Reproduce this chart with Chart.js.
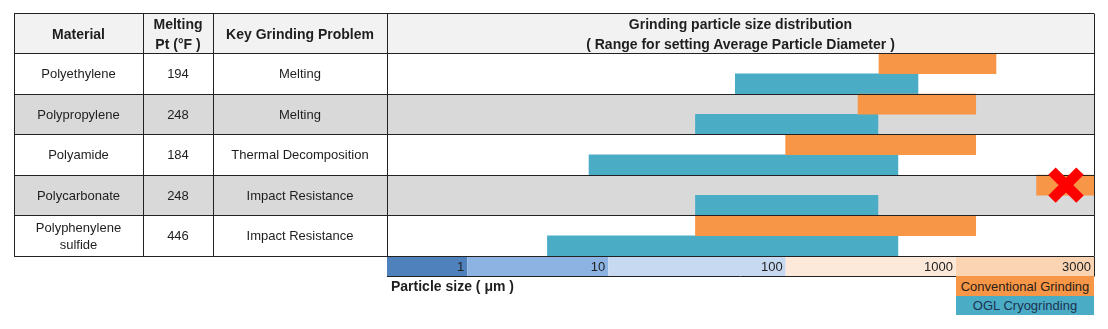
<!DOCTYPE html>
<html>
<head>
<meta charset="utf-8">
<title>Grinding particle size distribution</title>
<script src="https://cdn.jsdelivr.net/npm/chart.js@4.4.1/dist/chart.umd.min.js"></script>
<style>
html, body { margin: 0; padding: 0; background: #fff; }
body { position: relative; width: 1108px; height: 329px; overflow: hidden;
	font-family: "Liberation Sans", Arial, sans-serif; color: #1e1e1e; }
#chart { position: absolute; left: 0; top: 0; }
.cell { position: absolute; display: flex; align-items: center; justify-content: center;
	text-align: center; font-size: 13px; line-height: 17px; }
.head { font-weight: bold; font-size: 14px; line-height: 20px; }
.legend { position: absolute; left: 956px; width: 138px; font-size: 13px;
	display: flex; align-items: center; justify-content: center; }
#axis_title { position: absolute; left: 391px; top: 277px; font-size: 14px; font-weight: bold; line-height: 18px; }
</style>
</head>
<body>
<canvas id="chart" width="1108" height="329"></canvas>
<div id="cells"></div>
<div id="axis_title">Particle size ( μm )</div>
<div class="legend" style="top:276px; height:20px; background:#f79646; color:#2a2018;">Conventional Grinding</div>
<div class="legend" style="top:296px; height:19px; background:#4bacc6; color:#1c3350;">OGL Cryogrinding</div>
<script>
//======================================================================================================
// Data
//======================================================================================================
var materials    = ["Polyethylene", "Polypropylene", "Polyamide", "Polycarbonate", "Polyphenylene<br>sulfide"];
var meltingPts   = [194, 248, 184, 248, 446];
var problems     = ["Melting", "Melting", "Thermal Decomposition", "Impact Resistance", "Impact Resistance"];

// Range for setting average particle diameter, [from, to] in µm
var conventional = [[353, 1375], [266, 1170], [100, 1170], [1900, 3000], [31, 1170]];
var cryo         = [[52, 598], [31, 348], [7.3, 456], [31, 348], [3.7, 456]];

// Conventional grinding crossed out (µm where the cross sits), null = none
var crossedOut   = [null, null, null, 2400, null];

// Particle size axis
var axisMin      = 0.3;
var tickValues   = [1, 10, 100, 1000, 3000];
var tickLabels   = ["1", "10", "100", "1000", "3000"];

//======================================================================================================
// Layout / styles
//======================================================================================================
var colEdges   = [14, 143, 213, 387, 1094];
var headerTop  = 13.5;
var bandEdges  = [0, 0.1136, 0.3130, 0.5639, 0.8048, 1];	// where each tick sits along the axis (0..1)
var bandFills  = ["#4f81bd", "#8db3e2", "#c6d9f1", "#fde9d9", "#fbd4b4"];
var rowFills   = ["#ffffff", "#d9d9d9"];
var lineColor  = "#222222";
var FONT       = "'Liberation Sans', Arial, sans-serif";

//======================================================================================================
// Piecewise logarithmic scale (the decades are not equally wide in the original)
//======================================================================================================
function bandDecimal(v)
{
	var stops = [axisMin].concat(tickValues);
	if (v <= stops[0])
		return bandEdges[0];
	for (var i = 1; i < stops.length; i++)
	{
		if (v <= stops[i])
			return bandEdges[i-1] + (bandEdges[i] - bandEdges[i-1]) * Math.log(v / stops[i-1]) / Math.log(stops[i] / stops[i-1]);
	}
	return bandEdges[bandEdges.length - 1];
}

class BandScale extends Chart.LinearScale
{
	getPixelForValue(value)
	{
		return this.getPixelForDecimal(bandDecimal(value));
	}
	getValueForPixel(pixel)
	{
		var d = this.getDecimalForPixel(pixel);
		var stops = [axisMin].concat(tickValues);
		for (var i = 1; i < stops.length; i++)
		{
			if (d <= bandEdges[i])
				return stops[i-1] * Math.pow(stops[i] / stops[i-1], (d - bandEdges[i-1]) / (bandEdges[i] - bandEdges[i-1]));
		}
		return stops[stops.length - 1];
	}
}
BandScale.id = "band";
BandScale.defaults = Chart.LinearScale.defaults;
Chart.register(BandScale);

function crisp(v)
{
	return Math.round(v - 0.5) + 0.5;
}

//======================================================================================================
// Table background, grid lines, axis bands and the red cross
//======================================================================================================
var tablePlugin = {
	id: "tableGrid",
	beforeDraw: function(chart) {
		var ctx = chart.ctx, area = chart.chartArea, y = chart.scales.y, x = chart.scales.x;
		var rowH = (area.bottom - area.top) / materials.length;
		var left = colEdges[0], right = colEdges[colEdges.length - 1];
		ctx.save();
		ctx.fillStyle = "#f2f2f2";
		ctx.fillRect(left, headerTop, right - left, area.top - headerTop);
		for (var i = 0; i < materials.length; i++)
		{
			ctx.fillStyle = rowFills[i % 2];
			ctx.fillRect(left, y.getPixelForValue(i) - rowH / 2, right - left, rowH);
		}
		var edges = [x.left].concat(tickValues.map(function(v) { return x.getPixelForValue(v); }));
		for (var j = 0; j < tickValues.length; j++)
		{
			ctx.fillStyle = bandFills[j];
			ctx.fillRect(edges[j], x.top, edges[j+1] - edges[j], x.bottom - x.top);
		}
		ctx.restore();
	},
	afterDatasetsDraw: function(chart) {
		var ctx = chart.ctx, area = chart.chartArea, y = chart.scales.y, x = chart.scales.x;
		var rowH = (area.bottom - area.top) / materials.length;
		var left = colEdges[0], right = colEdges[colEdges.length - 1];
		ctx.save();
		ctx.strokeStyle = lineColor;
		ctx.lineWidth = 1;
		ctx.beginPath();
		var rows = [headerTop, area.top];
		for (var i = 0; i < materials.length; i++)
			rows.push(y.getPixelForValue(i) + rowH / 2);
		rows.forEach(function(r) {
			ctx.moveTo(left, crisp(r));
			ctx.lineTo(right, crisp(r));
		});
		colEdges.forEach(function(c) {
			ctx.moveTo(crisp(c), crisp(headerTop));
			ctx.lineTo(crisp(c), crisp(area.bottom));
		});
		// frame below the particle size bands
		ctx.moveTo(x.left, crisp(x.bottom));
		ctx.lineTo(x.right, crisp(x.bottom));
		ctx.moveTo(crisp(x.right), crisp(area.bottom));
		ctx.lineTo(crisp(x.right), crisp(x.bottom));
		ctx.stroke();

		// red cross over conventional grinding
		var meta = chart.getDatasetMeta(0);
		ctx.strokeStyle = "#ff0000";
		ctx.lineWidth = 10.5;
		ctx.lineCap = "butt";
		for (var k = 0; k < crossedOut.length; k++)
		{
			if (crossedOut[k] == null)
				continue;
			var cx = x.getPixelForValue(crossedOut[k]), cy = meta.data[k].y, s = 14;
			ctx.beginPath();
			ctx.moveTo(cx - s, cy - s); ctx.lineTo(cx + s, cy + s);
			ctx.moveTo(cx + s, cy - s); ctx.lineTo(cx - s, cy + s);
			ctx.stroke();
		}
		ctx.restore();
	}
};

//======================================================================================================
// Table text, placed on the category rows of the chart
//======================================================================================================
function addCell(html, x0, x1, top, h, cls)
{
	var d = document.createElement("div");
	d.className = "cell" + (cls ? " " + cls : "");
	d.style.left = x0 + "px";
	d.style.width = (x1 - x0) + "px";
	d.style.top = top + "px";
	d.style.height = h + "px";
	d.innerHTML = html;
	document.getElementById("cells").appendChild(d);
}

function Place_Cells(chart)
{
	var area = chart.chartArea, y = chart.scales.y;
	var rowH = (area.bottom - area.top) / materials.length;
	var hh = area.top - headerTop;
	addCell("Material", colEdges[0], colEdges[1], headerTop, hh, "head");
	addCell("Melting<br>Pt (°F )", colEdges[1], colEdges[2], headerTop, hh, "head");
	addCell("Key Grinding Problem", colEdges[2], colEdges[3], headerTop, hh, "head");
	addCell("Grinding particle size distribution<br>( Range for setting Average Particle Diameter )", colEdges[3], colEdges[4], headerTop, hh, "head");
	for (var i = 0; i < materials.length; i++)
	{
		var top = y.getPixelForValue(i) - rowH / 2;
		addCell(materials[i], colEdges[0], colEdges[1], top, rowH);
		addCell(String(meltingPts[i]), colEdges[1], colEdges[2], top, rowH);
		addCell(problems[i], colEdges[2], colEdges[3], top, rowH);
	}
}

var chart = new Chart(document.getElementById("chart"), {
	type: "bar",
	data: {
		labels: materials,
		datasets: [
			{
				label           : "Conventional Grinding",
				backgroundColor : "#f79646",
				borderWidth     : 0,
				data            : conventional
			},
			{
				label           : "OGL Cryogrinding",
				backgroundColor : "#4bacc6",
				borderWidth     : 0,
				data            : cryo
			}
		]
	},
	options: {
		indexAxis: "y",
		responsive: false,
		animation: false,
		events: [],
		categoryPercentage: 1.0,
		barPercentage: 1.0,
		layout: { padding: { left: 387, right: 14, top: 53.5, bottom: 53 } },
		plugins: {
			legend: { display: false },
			tooltip: { enabled: false }
		},
		scales: {
			y: {
				display: false,
				offset: true
			},
			x: {
				type: "band",
				min: axisMin,
				max: 3000,
				grid: { display: false, drawTicks: false },
				border: { display: false },
				afterBuildTicks: function(scale) {
					scale.ticks = tickValues.map(function(v) { return { value: v }; });
				},
				afterFit: function(scale) {
					scale.height = 20;
				},
				ticks: {
					autoSkip: false,
					maxRotation: 0,
					align: "end",
					labelOffset: -3,
					padding: 3.5,
					color: "#222222",
					font: { family: FONT, size: 13 },
					callback: function(value, index) { return tickLabels[index]; }
				}
			}
		}
	},
	plugins: [tablePlugin]
});

Place_Cells(chart);
</script>
</body>
</html>
